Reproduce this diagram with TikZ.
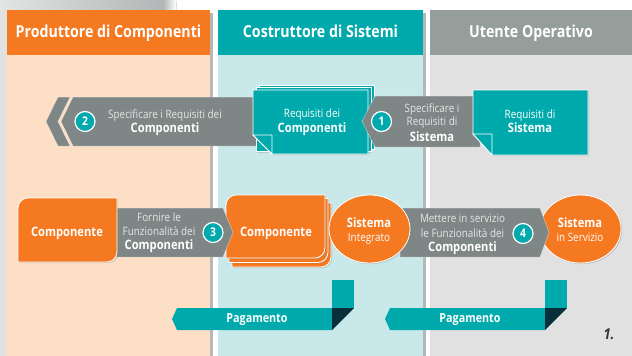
\documentclass[tikz,border=0pt]{standalone}
\usepackage{fontspec}
\setmainfont[FakeStretch=0.86]{Open Sans}
\usetikzlibrary{shadows}
\definecolor{corange}{HTML}{F47920}
\definecolor{clorange}{HTML}{FDDFC6}
\definecolor{cteal}{HTML}{00A9AC}
\definecolor{clteal}{HTML}{C8E8EA}
\definecolor{cgrayh}{HTML}{969E9C}
\definecolor{clgray}{HTML}{E0E1E0}
\definecolor{carrow}{HTML}{7E8786}
\definecolor{cdark}{HTML}{07303B}
\definecolor{csep}{HTML}{B4B8B8}
\definecolor{ctext}{HTML}{E4E8E7}
\definecolor{cgradA}{HTML}{E3E4E4}
\definecolor{cgradB}{HTML}{B3B6B6}
\definecolor{cnum}{HTML}{333333}
\begin{document}
\begin{tikzpicture}[x=1pt,y=-1pt,
  header/.style={text=white,font=\bfseries\fontsize{16.5}{18}\selectfont,anchor=base,inner sep=0pt},
  arrowbody/.style={fill=carrow,draw=white,draw opacity=0.5,line width=0.5pt},
  tealpage/.style={fill=cteal,draw=white,line width=0.8pt},
  orangeshape/.style={fill=corange,draw=white,line width=0.8pt},
  shade/.style={drop shadow={shadow xshift=1.2pt,shadow yshift=-1.2pt,opacity=0.3}},
  numcirc/.style={circle,fill=cteal,draw=white,line width=1.2pt,minimum size=20pt,inner sep=0pt,text=white,font=\bfseries\fontsize{12}{12}\selectfont},
  alight/.style={text=ctext,font=\fontsize{11.5}{13}\selectfont,anchor=base,inner sep=0pt},
  abold/.style={text=white,font=\bfseries\fontsize{13}{14}\selectfont,anchor=base,inner sep=0pt},
  wlight/.style={text=white,font=\fontsize{11.5}{13}\selectfont,anchor=base,inner sep=0pt},
  banner/.style={fill=cteal},
  bannerfold/.style={fill=cdark},
]
\useasboundingbox (0,0) rectangle (632,356);
% top gradient bar and left strip
\shade[left color=cgradA,right color=cgradB] (0,0) rectangle (163,10);
\shade[left color=cgradB,right color=white] (163,0) rectangle (176,10);
\fill[clgray] (0,10) rectangle (7,356);
% columns
\fill[csep] (210,13) rectangle (213,356);
\fill[corange] (7,10) rectangle (210,55);
\fill[clorange] (7,55) rectangle (210,356);
\fill[csep] (423,13) rectangle (426,356);
\fill[cteal] (218,10) rectangle (423,55);
\fill[clteal] (218,55) rectangle (423,356);
\fill[cgrayh] (430,10) rectangle (632,55);
\fill[clgray] (430,55) rectangle (632,356);
\node[header] (h1) at (108.5,37) {Produttore di Componenti};
\node[header] (h2) at (320.5,37) {Costruttore di Sistemi};
\node[header] (h3) at (531,37) {Utente Operativo};

% ---------- row 1 ----------
% arrow 2
\path[arrowbody] (58,97) -- (70,97) -- (58,121.5) -- (70,146) -- (58,146) -- (46,121.5) -- cycle;
\path[arrowbody] (73,97) -- (262,97) -- (262,146) -- (73,146) -- (61,121.5) -- cycle;
% component requirements stack
\path[tealpage,shade] (259,85) rectangle (374,149);
\path[tealpage,shade] (256,87.5) rectangle (371,151.5);
\path[tealpage,shade] (253,90) -- (368,90) -- (368,154) -- (272,154) -- (253,135) -- cycle;
\path[tealpage] (253,135) -- (272,135) -- (272,154) -- cycle;
% arrow 1
\path[arrowbody] (375,96) -- (480,96) -- (480,147) -- (375,147) -- (362,121.5) -- cycle;
% system requirements
\path[tealpage,shade] (473,90) -- (588,90) -- (588,155) -- (492,155) -- (473,134) -- cycle;
\path[tealpage] (473,134) -- (492,134) -- (492,155) -- cycle;

\node[numcirc] (n2) at (85,121.5) {2};
\node[alight] (t2a) at (165,118.5) {Specificare i Requisiti dei};
\node[abold] (t2b) at (165,132.5) {Componenti};
\node[wlight] (rc1) at (312,117.5) {Requisiti dei};
\node[abold] (rc2) at (312,132.5) {Componenti};
\node[numcirc] (n1) at (381.5,121.5) {1};
\node[alight] (t1a) at (432,112.5) {Specificare i};
\node[alight] (t1b) at (432,125.5) {Requisiti di};
\node[abold] (t1c) at (432,141) {Sistema};
\node[wlight] (rs1) at (530,118) {Requisiti di};
\node[abold] (rs2) at (530,132.5) {Sistema};

% ---------- row 2 ----------
% stacked component (builder)
\path[orangeshape,shade] (232,207) -- (232,213) .. controls (232,207.5) and (236.5,203) .. (242,203) -- (331,203) -- (331,257) .. controls (331,262.5) and (326.5,267) .. (321,267) -- (232,267) -- cycle;
\path[orangeshape,shade] (229,262.5) -- (229,208.5) .. controls (229,203) and (233.5,198.5) .. (239,198.5) -- (328,198.5) -- (328,252.5) .. controls (328,258) and (323.5,262.5) .. (318,262.5) -- cycle;
\path[orangeshape,shade] (226,258) -- (226,205) .. controls (226,199.5) and (230.5,195) .. (236,195) -- (325,195) -- (325,248) .. controls (325,253.5) and (320.5,258) .. (315,258) -- cycle;
% arrow 3
\path[arrowbody] (110,208) -- (223,208) -- (233,232.5) -- (223,257) -- (110,257) -- cycle;
% component (producer)
\path[orangeshape,shade] (18,262) -- (18,208) .. controls (18,202.5) and (22.5,198) .. (28,198) -- (117,198) -- (117,252) .. controls (117,257.5) and (112.5,262) .. (107,262) -- cycle;
% system in service ellipse, arrow 4, integrated system ellipse
\path[orangeshape,shade] (580.5,229) ellipse [x radius=40.5, y radius=34];
\path[arrowbody] (400,208) -- (540,208) -- (549,232.5) -- (540,257) -- (400,257) -- cycle;
\path[orangeshape,shade] (369.5,229) ellipse [x radius=40.5, y radius=34];

\node[abold] (c1) at (67,236) {Componente};
\node[alight] (t3a) at (159,221.5) {Fornire le};
\node[alight] (t3b) at (159,235) {Funzionalità dei};
\node[abold] (t3c) at (159,249) {Componenti};
\node[numcirc] (n3) at (213,232.5) {3};
\node[abold] (c2) at (276,236.5) {Componente};
\node[abold] (s1a) at (369,227.5) {Sistema};
\node[wlight] (s1b) at (369,241.5) {Integrato};
\node[alight] (t4a) at (462.5,222.5) {Mettere in servizio};
\node[alight] (t4b) at (462.5,237.5) {le Funzionalità dei};
\node[abold] (t4c) at (462.5,251) {Componenti};
\node[numcirc] (n4) at (523,233.5) {4};
\node[abold] (s2a) at (580,227.5) {Sistema};
\node[wlight] (s2b) at (580,241.5) {in Servizio};

% ---------- payments ----------
\fill[banner] (332,280) rectangle (354,308);
\fill[banner] (177,308) -- (332,308) -- (332,330) -- (177,330) -- (172,319) -- cycle;
\fill[bannerfold] (332,308) -- (354,308) -- (332,330) -- cycle;
\fill[banner] (545,280) rectangle (567,308);
\fill[banner] (390,308) -- (545,308) -- (545,330) -- (390,330) -- (385,319) -- cycle;
\fill[bannerfold] (545,308) -- (567,308) -- (545,330) -- cycle;
\node[abold,font=\bfseries\fontsize{12.5}{14}\selectfont] (p1) at (257,322.5) {Pagamento};
\node[abold,font=\bfseries\fontsize{12.5}{14}\selectfont] (p2) at (470,322.5) {Pagamento};
\node[anchor=base,inner sep=0pt,text=cnum,font=\bfseries\itshape\fontsize{15}{16}\selectfont] (fig) at (609,339) {1.};
\end{tikzpicture}
\end{document}
